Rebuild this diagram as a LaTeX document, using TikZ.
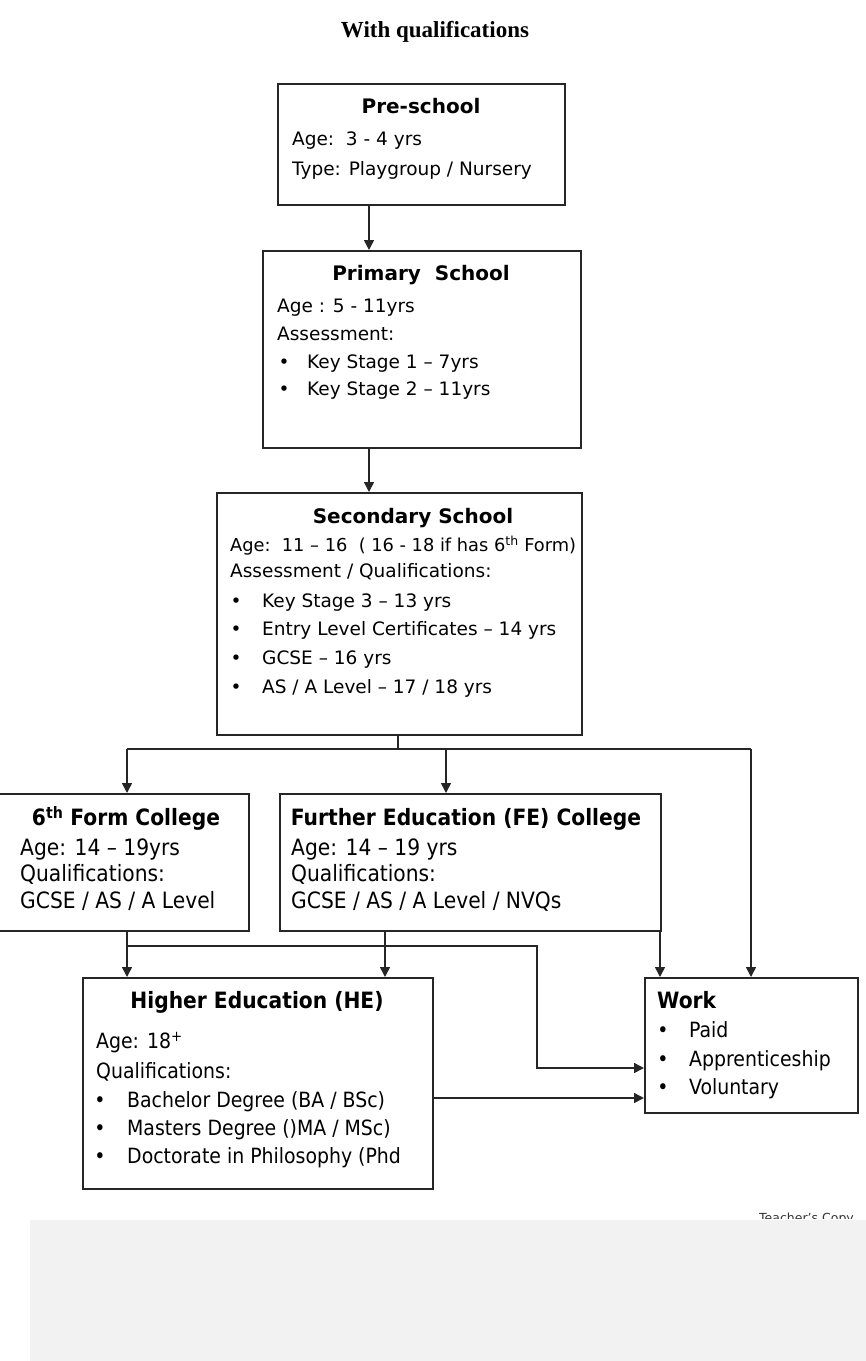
\documentclass[tikz,border=0pt]{standalone}
\usepackage{fontspec}
\setmainfont{DejaVu Sans}
\newfontfamily\condfont{DejaVu Sans Condensed}
\newfontfamily\serifttl{Liberation Serif}
\usetikzlibrary{arrows.meta}
\begin{document}
\begin{tikzpicture}[x=1pt,y=-1pt,
 box/.style={draw=black!85, line width=2.1pt, anchor=north west, inner sep=0pt},
 conn/.style={line width=1.5pt, draw=black!85},
 arr/.style={conn, -{Triangle[length=10pt,width=10pt]}},
 txt/.style={anchor=mid west, inner sep=0pt, yshift=-3pt, font=\fontsize{18.5}{22}\selectfont},
 ttl/.style={anchor=mid, inner sep=0pt, yshift=-3pt, font=\fontsize{20}{24}\selectfont\bfseries},
 ltxt/.style={anchor=mid west, inner sep=0pt, yshift=-3pt, font=\condfont\fontsize{22.5}{26}\selectfont},
 htxt/.style={anchor=mid west, inner sep=0pt, yshift=-3pt, font=\condfont\fontsize{21}{25}\selectfont},
 lttl/.style={anchor=mid, inner sep=0pt, yshift=-3pt, font=\condfont\fontsize{22.5}{26}\selectfont\bfseries},
 bul/.style={anchor=mid, inner sep=0pt, yshift=-3pt, font=\fontsize{18.5}{22}\selectfont},
 lbul/.style={anchor=mid, inner sep=0pt, yshift=-3pt, font=\condfont\fontsize{21}{25}\selectfont}
]
\useasboundingbox (0,0) rectangle (866,1361);
\fill[white] (0,0) rectangle (866,1361);

% title
\node[anchor=mid, inner sep=0pt, yshift=-5pt, font=\serifttl\fontsize{23}{26}\selectfont\bfseries] (title) at (435,30) {With qualifications};

% boxes
\node[box, minimum width=287pt, minimum height=121pt] (pre) at (277,83) {};
\node[box, minimum width=318pt, minimum height=197pt] (prim) at (262,250) {};
\node[box, minimum width=365pt, minimum height=242pt] (sec) at (216,492) {};
\node[box, minimum width=251pt, minimum height=137pt] (sixth) at (-3,793) {};
\node[box, minimum width=381pt, minimum height=137pt] (fe) at (279,793) {};
\node[box, minimum width=350pt, minimum height=211pt] (he) at (82,977) {};
\node[box, minimum width=213pt, minimum height=135pt] (work) at (644,977) {};

% pre-school text
\node[ttl] (preT) at (421,108) {Pre-school};
\node[txt] (preA) at (292,140) {Age:\ \ 3 - 4 yrs};
\node[txt] (preB) at (292,170) {Type: Playgroup / Nursery};

% primary text
\node[ttl] (primT) at (421,275) {Primary\ \ School};
\node[txt] (primA) at (277,307) {Age : 5 - 11yrs};
\node[txt] (primB) at (277,335) {Assessment:};
\node[bul] (primb1) at (284,363) {\textbullet};
\node[txt] (primC) at (307,363) {Key Stage 1 – 7yrs};
\node[bul] (primb2) at (284,390) {\textbullet};
\node[txt] (primD) at (307,390) {Key Stage 2 – 11yrs};

% secondary text
\node[ttl] (secT) at (413,518) {Secondary School};
\node[txt, font=\fontsize{17.8}{22}\selectfont] (secA) at (230,546) {Age:\ \ 11 – 16\ \ ( 16 - 18 if has 6\textsuperscript{th} Form)};
\node[txt] (secB) at (230,572) {Assessment / Qualifications:};
\node[bul] (secb1) at (236,602) {\textbullet};
\node[txt] (secC) at (262,602) {Key Stage 3 – 13 yrs};
\node[bul] (secb2) at (236,630) {\textbullet};
\node[txt] (secD) at (262,630) {Entry Level Certificates – 14 yrs};
\node[bul] (secb3) at (236,659) {\textbullet};
\node[txt] (secE) at (262,659) {GCSE – 16 yrs};
\node[bul] (secb4) at (236,688) {\textbullet};
\node[txt] (secF) at (262,688) {AS / A Level – 17 / 18 yrs};

% sixth form text
\node[lttl] (sixT) at (126,820) {6\textsuperscript{th} Form College};
\node[ltxt] (sixA) at (20,850) {Age: 14 – 19yrs};
\node[ltxt] (sixB) at (20,876) {Qualifications:};
\node[ltxt] (sixC) at (20,903) {GCSE / AS / A Level};

% FE text
\node[lttl] (feT) at (466,820) {Further Education (FE) College};
\node[ltxt] (feA) at (291,850) {Age: 14 – 19 yrs};
\node[ltxt] (feB) at (291,876) {Qualifications:};
\node[ltxt] (feC) at (291,903) {GCSE / AS / A Level / NVQs};

% HE text
\node[lttl] (heT) at (257,1003) {Higher Education (HE)};
\node[htxt] (heA) at (96,1043) {Age: 18\textsuperscript{+}};
\node[htxt] (heB) at (96,1073) {Qualifications:};
\node[lbul] (heb1) at (100,1102) {\textbullet};
\node[htxt] (heC) at (127,1102) {Bachelor Degree (BA / BSc)};
\node[lbul] (heb2) at (100,1130) {\textbullet};
\node[htxt] (heD) at (127,1130) {Masters Degree ()MA / MSc)};
\node[lbul] (heb3) at (100,1158) {\textbullet};
\node[htxt] (heE) at (127,1158) {Doctorate in Philosophy (Phd};

% work text
\node[lttl, anchor=mid west] (workT) at (657,1003) {Work};
\node[lbul] (wb1) at (663,1032) {\textbullet};
\node[htxt] (workA) at (689,1032) {Paid};
\node[lbul] (wb2) at (663,1061) {\textbullet};
\node[htxt] (workB) at (689,1061) {Apprenticeship};
\node[lbul] (wb3) at (663,1089) {\textbullet};
\node[htxt] (workC) at (689,1089) {Voluntary};

% connector coordinates
\coordinate (xa) at (369,0);
\coordinate (xs) at (398,0);
\coordinate (x6) at (127,0);
\coordinate (xf) at (446,0);
\coordinate (xw) at (751,0);
\coordinate (xfh) at (385,0);
\coordinate (xfw) at (660,0);
\coordinate (xj) at (537,0);
\coordinate (ysplit) at (0,749);
\coordinate (yj) at (0,946);
\coordinate (yw1) at (0,1068);
\coordinate (yw2) at (0,1098);

% connectors
\draw[arr] (xa |- pre.south) -- (xa |- prim.north);
\draw[arr] (xa |- prim.south) -- (xa |- sec.north);
\draw[conn] (xs |- sec.south) -- (xs |- ysplit);
\draw[conn] (x6 |- ysplit) -- (xw |- ysplit);
\draw[arr] (x6 |- ysplit) -- (x6 |- sixth.north);
\draw[arr] (xf |- ysplit) -- (xf |- fe.north);
\draw[arr] (xw |- ysplit) -- (xw |- work.north);
\draw[arr] (x6 |- sixth.south) -- (x6 |- he.north);
\draw[arr] (x6 |- yj) -- (xj |- yj) -- (xj |- yw1) -- (work.west |- yw1);
\draw[arr] (xfh |- fe.south) -- (xfh |- he.north);
\draw[arr] (xfw |- fe.south) -- (xfw |- work.north);
\draw[arr] (he.east |- yw2) -- (work.west |- yw2);

% teacher's copy (clipped) and grey panel
\begin{scope}
\clip (740,1200) rectangle (866,1218);
\node[anchor=north west, inner sep=0pt, font=\fontsize{12.5}{14}\selectfont, text=black!80] (tc) at (759,1213) {Teacher's Copy};
\end{scope}
\fill[black!5] (30,1220) rectangle (866,1361);
\end{tikzpicture}
\end{document}
